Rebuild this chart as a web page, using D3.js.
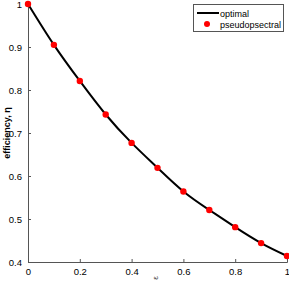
<!DOCTYPE html>
<html><head><meta charset="utf-8">
<script src="https://cdn.jsdelivr.net/npm/d3@7"></script>
<style>body{margin:0;background:#fff}svg{display:block}text{font-family:"Liberation Sans",Arial,sans-serif}</style>
</head><body>
<script>
const epsilon = [0,0.1,0.2,0.3,0.4,0.5,0.6,0.7,0.8,0.9,1.0];
const optimal = [1.0,0.905,0.821,0.743,0.677,0.619,0.564,0.521,0.481,0.444,0.414];
const pseudospectral = [1.0,0.905,0.821,0.743,0.677,0.619,0.564,0.521,0.481,0.444,0.414];
const xTicks = [0,0.2,0.4,0.6,0.8,1];
const yTicks = [0.4,0.5,0.6,0.7,0.8,0.9,1];
const legendLabels = ["optimal","pseudopsectral"];

const W=289,H=285, m={l:28,r:2,t:4,b:23};
const svg=d3.select("body").append("svg").attr("width",W).attr("height",H);
const x=d3.scaleLinear().domain([0,1]).range([m.l,W-m.r]);
const y=d3.scaleLinear().domain([0.4,1]).range([H-m.b,m.t]);

const axCol="#555";
const gx=svg.append("g").attr("transform",`translate(0,${H-m.b})`)
  .call(d3.axisBottom(x).tickValues(xTicks).tickSize(-3).tickPadding(6).tickFormat(d=>d3.format("")(d)));
const gy=svg.append("g").attr("transform",`translate(${m.l},0)`)
  .call(d3.axisLeft(y).tickValues(yTicks).tickSize(-3).tickPadding(6).tickFormat(d=>d3.format("")(d)));
[gx,gy].forEach(g=>{
  g.select(".domain").attr("stroke",axCol);
  g.selectAll(".tick line").attr("stroke",axCol);
  g.selectAll(".tick text").attr("fill","#000").attr("font-size",9.5).attr("font-family","Liberation Sans, Arial, sans-serif");
});

const pts=epsilon.map((e,i)=>[e,optimal[i]]);
svg.append("path").datum(pts).attr("fill","none").attr("stroke","#000").attr("stroke-width",2)
  .attr("d",d3.line().x(d=>x(d[0])).y(d=>y(d[1])).curve(d3.curveNatural));
svg.append("g").selectAll("circle").data(epsilon).join("circle")
  .attr("cx",d=>x(d)).attr("cy",(d,i)=>y(pseudospectral[i])).attr("r",3.2).attr("fill","#f00");

// axis labels
svg.append("text").attr("transform",`translate(10,${(m.t+H-m.b)/2}) rotate(-90)`)
  .attr("text-anchor","middle").attr("font-size",9).attr("font-weight","bold").text("efficiency, η");
svg.append("text").attr("transform",`translate(158,278) rotate(-90)`)
  .attr("text-anchor","middle").attr("font-size",8).attr("fill","#333").text("ε");

// legend
const lg=svg.append("g");
lg.append("rect").attr("x",193.5).attr("y",4.5).attr("width",90).attr("height",27).attr("fill","#fff").attr("stroke",axCol);
lg.append("line").attr("x1",197).attr("x2",219).attr("y1",13).attr("y2",13).attr("stroke","#000").attr("stroke-width",2);
lg.append("circle").attr("cx",207).attr("cy",24).attr("r",3).attr("fill","#f00");
lg.selectAll("text.l").data(legendLabels).join("text").attr("x",220).attr("y",(d,i)=>16.5+i*11)
  .attr("font-size",9).attr("textLength",(d,i)=>i===1?61:null).attr("lengthAdjust","spacingAndGlyphs").text(d=>d);
</script>
</body></html>
